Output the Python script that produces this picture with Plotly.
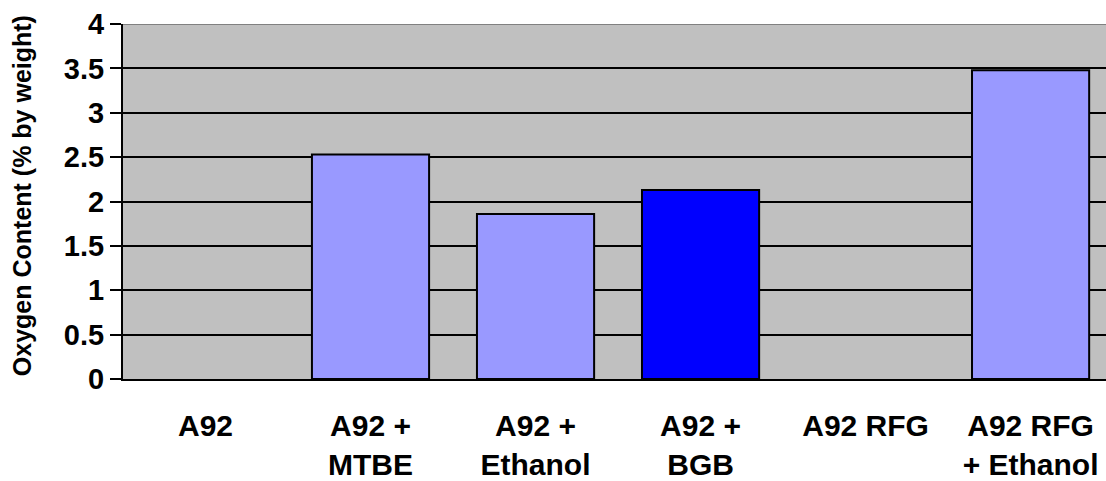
import plotly.graph_objects as go

# Oxygen content of each fuel blend
categories = ["A92", "A92 +<br>MTBE", "A92 +<br>Ethanol", "A92 +<br>BGB", "A92 RFG", "A92 RFG<br>+ Ethanol"]
oxygen_pct = [0, 2.53, 1.86, 2.13, 0, 3.48]
bar_colors = ["#9999FF", "#9999FF", "#9999FF", "#0000FF", "#9999FF", "#9999FF"]
y_ticks = [0, 0.5, 1, 1.5, 2, 2.5, 3, 3.5, 4]
y_tick_text = ["0", "0.5", "1", "1.5", "2", "2.5", "3", "3.5", "4"]

FONT = "Liberation Sans, Arial, sans-serif"

fig = go.Figure(
    go.Bar(
        x=list(range(len(categories))),
        y=oxygen_pct,
        marker=dict(
            color=bar_colors,
            line=dict(color="black", width=[2 if v else 0 for v in oxygen_pct]),
        ),
        width=0.71,
        hoverinfo="skip",
    )
)

fig.update_layout(
    width=1106,
    height=481,
    margin=dict(l=123, r=0, t=24, b=102),
    paper_bgcolor="white",
    plot_bgcolor="#C0C0C0",
    showlegend=False,
    font=dict(family=FONT, color="black"),
    xaxis=dict(
        tickmode="array",
        tickvals=list(range(len(categories))),
        ticktext=[f"<b>{c}</b>" for c in categories],
        range=[-0.5, 5.457],
        automargin=False,
        showgrid=False,
        showline=True,
        linecolor="black",
        linewidth=2,
        ticks="",
        ticklabelstandoff=19,
        tickfont=dict(family=FONT, size=30, color="black"),
        zeroline=False,
    ),
    yaxis=dict(
        range=[0, 4],
        automargin=False,
        tickmode="array",
        tickvals=y_ticks,
        ticktext=[f"<b>{t}</b>" for t in y_tick_text],
        showgrid=True,
        gridcolor="black",
        gridwidth=2,
        showline=True,
        linecolor="black",
        linewidth=2,
        ticks="outside",
        ticklen=11,
        tickwidth=2,
        tickcolor="black",
        tickfont=dict(family=FONT, size=29, color="black"),
        zeroline=False,
    ),
    shapes=[
        dict(type="line", xref="paper", yref="y", x0=0, x1=1, y0=4, y1=4,
             line=dict(color="#808080", width=2)),
    ],
    annotations=[
        dict(
            text="<b>Oxygen Content (% by weight)</b>",
            xref="paper", yref="paper",
            x=(22 - 123) / 983, y=0.515,
            xanchor="center", yanchor="middle",
            textangle=-90, showarrow=False,
            font=dict(family=FONT, size=25, color="black"),
        )
    ],
)

fig.write_html("out.html")
